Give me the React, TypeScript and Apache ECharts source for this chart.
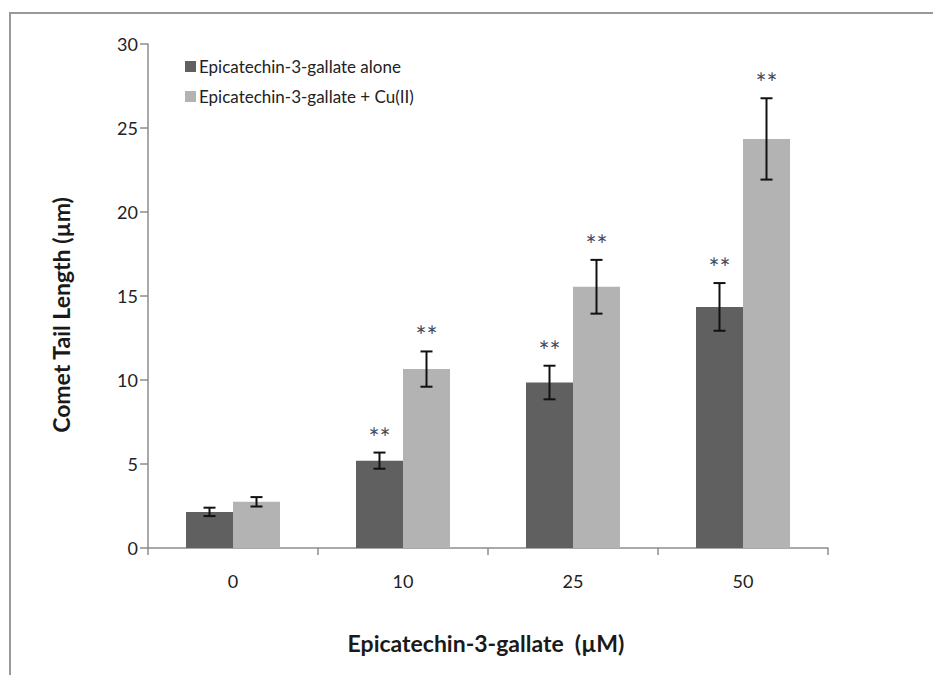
import React, { useEffect, useRef } from "react";
import * as echarts from "echarts";

const categories = ["0", "10", "25", "50"];
const aloneMean = [2.15, 5.2, 9.85, 14.35];
const aloneErr = [0.25, 0.48, 1.0, 1.42];
const aloneSig = ["", "**", "**", "**"];
const cuMean = [2.75, 10.65, 15.55, 24.35];
const cuErr = [0.28, 1.05, 1.6, 2.42];
const cuSig = ["", "**", "**", "**"];
const seriesNames = ["Epicatechin-3-gallate alone", "Epicatechin-3-gallate + Cu(II)"];

const FONT = "Lato, 'Open Sans', sans-serif";
const BAR_W = 47;

function errSeries(means: number[], errs: number[], sigs: string[], offset: number, name: string) {
  return {
    type: "custom",
    name: name + " err",
    silent: true,
    z: 10,
    data: means.map((m, i) => [i, m, errs[i]]),
    renderItem: (params: any, api: any) => {
      const i = api.value(0);
      const v = api.value(1);
      const e = api.value(2);
      const sig = sigs[params.dataIndex];
      const hi = api.coord([i, v + e]);
      const lo = api.coord([i, v - e]);
      const cx = hi[0] + offset;
      const cap = 6;
      const style = { stroke: "#111", lineWidth: 2 };
      const children: any[] = [
        { type: "line", shape: { x1: cx, y1: hi[1], x2: cx, y2: lo[1] }, style },
        { type: "line", shape: { x1: cx - cap, y1: hi[1], x2: cx + cap, y2: hi[1] }, style },
        { type: "line", shape: { x1: cx - cap, y1: lo[1], x2: cx + cap, y2: lo[1] }, style },
      ];
      if (sig) {
        children.push({
          type: "text",
          style: {
            text: sig,
            x: cx,
            y: hi[1] - 28,
            align: "center",
            verticalAlign: "top",
            font: `26px ${FONT}`,
            fill: "#454a5c",
          },
        });
      }
      return { type: "group", children };
    },
  };
}

export default function App() {
  const ref = useRef<HTMLDivElement>(null);
  useEffect(() => {
    if (!ref.current) return;
    const chart = echarts.init(ref.current, null, { renderer: "svg" });
    chart.setOption({
      animation: false,
      backgroundColor: "#ffffff",
      textStyle: { fontFamily: FONT },
      grid: { left: 148, right: 105, top: 44, bottom: 127 },
      legend: {
        orient: "vertical",
        left: 180,
        top: 53,
        itemWidth: 11,
        itemHeight: 11,
        itemGap: 13,
        icon: "rect",
        data: seriesNames,
        textStyle: { fontSize: 17, color: "#222", fontFamily: FONT, padding: [0, 0, 0, -2] },
      },
      graphic: [
        {
          type: "rect",
          shape: { x: 10, y: 13, width: 960, height: 700 },
          style: { fill: "none", stroke: "#999", lineWidth: 2 },
          silent: true,
        },
        {
          type: "text",
          x: 61,
          y: 315,
          rotation: Math.PI / 2,
          style: {
            text: "Comet Tail Length (µm)",
            font: `bold 23px ${FONT}`,
            fill: "#1a1a1a",
            align: "center",
            verticalAlign: "middle",
          },
        },
        {
          type: "text",
          x: 486,
          y: 643,
          style: {
            text: "Epicatechin-3-gallate  (µM)",
            font: `bold 23px ${FONT}`,
            fill: "#1a1a1a",
            align: "center",
            verticalAlign: "middle",
          },
        },
      ],
      xAxis: {
        type: "category",
        data: categories,
        axisLine: { lineStyle: { color: "#8c8c8c", width: 1.5 } },
        axisTick: { show: true, length: 7, lineStyle: { color: "#8c8c8c", width: 1.5 } },
        axisLabel: { fontSize: 18, color: "#222", margin: 24, fontFamily: FONT },
      },
      yAxis: {
        type: "value",
        min: 0,
        max: 30,
        interval: 5,
        splitLine: { show: false },
        axisLine: { show: true, lineStyle: { color: "#8c8c8c", width: 1.5 } },
        axisTick: { show: true, length: 8, lineStyle: { color: "#8c8c8c", width: 1.5 } },
        axisLabel: { fontSize: 18, color: "#222", margin: 10, fontFamily: FONT },
      },
      series: [
        {
          type: "bar",
          name: seriesNames[0],
          data: aloneMean,
          barWidth: BAR_W,
          barGap: "0%",
          itemStyle: { color: "#606060" },
        },
        {
          type: "bar",
          name: seriesNames[1],
          data: cuMean,
          barWidth: BAR_W,
          barGap: "0%",
          itemStyle: { color: "#b3b3b3" },
        },
        errSeries(aloneMean, aloneErr, aloneSig, -BAR_W / 2, seriesNames[0]),
        errSeries(cuMean, cuErr, cuSig, BAR_W / 2, seriesNames[1]),
      ],
    });
    return () => chart.dispose();
  }, []);
  return (
    <div
      ref={ref}
      style={{ position: "fixed", left: 0, top: 0, width: 933, height: 675, background: "#fff" }}
    />
  );
}
